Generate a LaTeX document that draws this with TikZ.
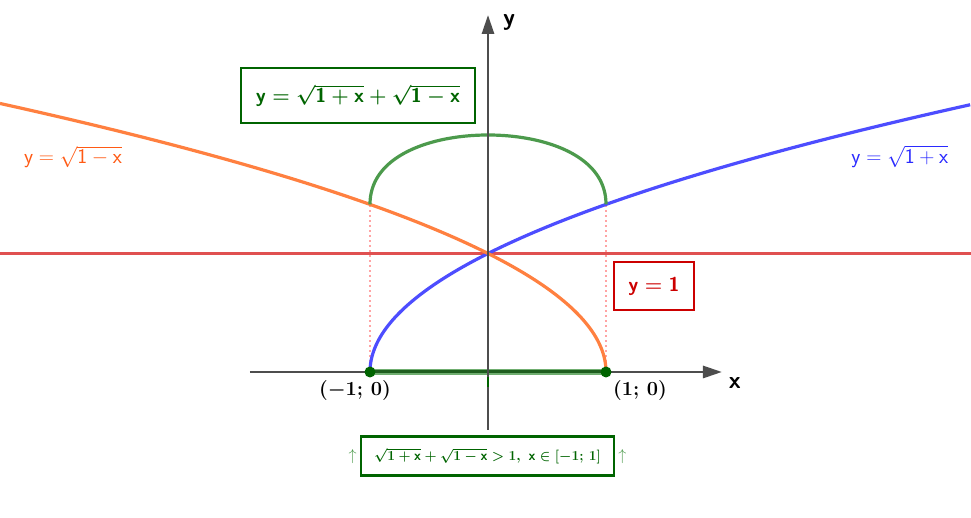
\RequirePackage{fix-cm}
\documentclass[tikz,border=0pt]{standalone}
\usetikzlibrary{arrows.meta}
\definecolor{orcurve}{HTML}{FF8040}
\definecolor{ortext}{HTML}{FF5A14}
\definecolor{blcurve}{HTML}{4D4DFF}
\definecolor{bltext}{HTML}{2A2AFF}
\definecolor{grcurve}{HTML}{4C9A4C}
\definecolor{grdark}{HTML}{006400}
\definecolor{grseg}{HTML}{1F5E1F}
\definecolor{redline}{HTML}{E05050}
\definecolor{redbox}{HTML}{CC0000}
\definecolor{axisgray}{HTML}{4D4D4D}
\definecolor{pinkdot}{HTML}{FFA4A4}
\newcommand{\sfb}[1]{\mbox{\sffamily\bfseries #1}}
\newcommand{\sfn}[1]{\mbox{\sffamily #1}}
\begin{document}
\begin{tikzpicture}[x=118pt,y=118.5pt,
  axisline/.style={draw=axisgray,line width=2.8pt,-{Triangle[length=19pt,width=12pt]}},
  curveline/.style={line width=3.2pt},
  guide/.style={draw=pinkdot,line width=2.4pt,dash pattern=on 2.4pt off 2.6pt},
  eqbox/.style={draw,line width=2.2pt,inner sep=0pt},
  ptdot/.style={circle,fill=grdark,inner sep=0pt,minimum size=11pt},
  axlabel/.style={font=\fontsize{24}{28}\selectfont\sffamily\bfseries},
  ptlabel/.style={font=\fontsize{20}{24}\selectfont\bfseries\boldmath},
  fnlabel/.style={font=\fontsize{21}{25}\selectfont}]
\useasboundingbox (-4.1356,-1.2321) rectangle (4.0932,3.1392);
% key points
\coordinate (A) at (-1,0);
\coordinate (B) at (1,0);
\coordinate (Atop) at (-1,1.4142);
\coordinate (Btop) at (1,1.4142);
\coordinate (L1) at (-4.1356,1);
\coordinate (R1) at (4.0932,1);
\coordinate (xs) at (-2.017,0);
\coordinate (xe) at (1.983,0);
\coordinate (ys) at (0,-0.489);
\coordinate (ye) at (0,3.013);
% guides
\draw[guide] (A) -- (Atop);
\draw[guide] (B) -- (Btop);
% y = 1
\draw[redline,line width=2.8pt] (L1) -- (R1);
% curves
\draw[blcurve,curveline] plot[domain=0:2.2568,samples=120,smooth,variable=\t] ({\t*\t-1},{\t});
\draw[orcurve,curveline] plot[domain=0:2.2662,samples=120,smooth,variable=\t] ({1-\t*\t},{\t});
\draw[grcurve,curveline] plot[domain=-90:90,samples=120,smooth,variable=\t] ({sin(\t)},{2*cos(\t/2)});
% axes
\draw[axisline] (xs) -- (xe);
\draw[grcurve,line width=6pt,opacity=0.8] (A) -- (B);
\draw[grseg,line width=3pt] (A) -- (B);
\draw[axisline] (ys) -- (ye);
\draw[grdark,line width=1.6pt] (0,-0.04) -- (0,-0.13);
\node[ptdot] (Pa) at (A) {};
\node[ptdot] (Pb) at (B) {};
% labels
\node[axlabel] (xl) at (2.093,-0.093) {x};
\node[axlabel] (yl) at (0.178,2.953) {y};
\node[ptlabel] (la) at (-1.127,-0.152) {$(-1;\,0)$};
\node[ptlabel] (lb) at (1.288,-0.160) {$(1;\,0)$};
\node[fnlabel,text=ortext] (fo) at (-3.517,1.815) {$\sfn{y}=\sqrt{\sfn{1}-\sfn{x}}$};
\node[fnlabel,text=bltext] (fb) at (3.49,1.815) {$\sfn{y}=\sqrt{\sfn{1}+\sfn{x}}$};
\node[eqbox,draw=grdark,text=grdark,minimum width=234pt,minimum height=55pt,font=\fontsize{20}{24}\selectfont\bfseries\boldmath] (top) at (-1.102,2.333) {$\sfb{y}=\sqrt{\sfb{1}+\sfb{x}}+\sqrt{\sfb{1}-\sfb{x}}$};
\node[eqbox,draw=redbox,text=redbox,minimum width=80pt,minimum height=48pt,font=\fontsize{20}{24}\selectfont\bfseries\boldmath] (one) at (1.407,0.726) {$\sfb{y}=\sfb{1}$};
\node[eqbox,draw=grdark,text=grdark,minimum width=253pt,minimum height=39pt,font=\fontsize{13.8}{16}\selectfont\bfseries\boldmath] (bot) at (-0.004,-0.709) {$\sqrt{\mathbf{1}+\sfb{x}}+\sqrt{\mathbf{1}-\sfb{x}}>\mathbf{1},\ \sfb{x}\in[-\mathbf{1};\,\mathbf{1}]$};
\node[text=grcurve,font=\fontsize{16}{18}\selectfont,anchor=east,inner sep=3pt] (arl) at (bot.west) {$\uparrow$};
\node[text=grcurve,font=\fontsize{16}{18}\selectfont,anchor=west,inner sep=3pt] (arr) at (bot.east) {$\uparrow$};
\end{tikzpicture}
\end{document}
